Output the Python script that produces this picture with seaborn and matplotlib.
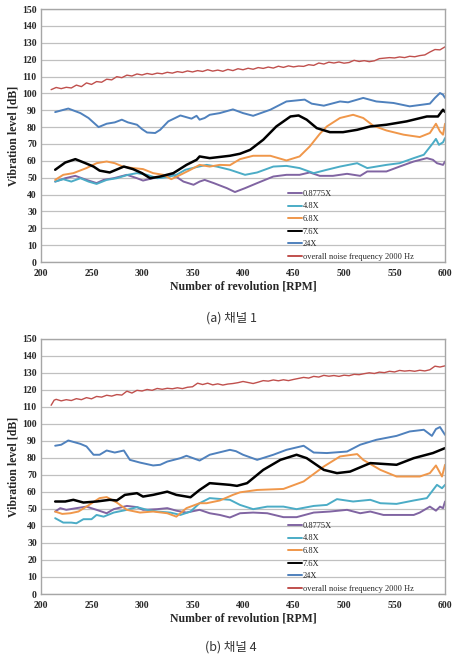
import pandas as pd
import matplotlib
matplotlib.use("Agg")
import matplotlib.pyplot as plt
import seaborn as sns

# series names / colours (Excel-style)
labels = ["0.8775X", "4.8X", "6.8X", "7.6X", "24X", "overall noise frequency 2000 Hz"]
colors = ["#8064A2", "#4BACC6", "#F0974A", "#000000", "#4F81BD", "#C0504D"]
widths = [1.4, 1.4, 1.4, 1.8, 1.4, 1.0]

# ---------------- (a) channel 1 ----------------
a_p_rpm = [214, 224, 234, 245, 255, 262, 272, 285, 295, 301, 311, 321, 331, 341, 351, 357, 362, 371, 384, 392,
           402, 414, 430, 443, 456, 466, 476, 489, 503, 516, 523, 542, 555, 569, 582, 588, 592, 598, 600]
a_p_db = [47.7, 49.7, 51.1, 48.7, 46.8, 48.7, 49.7, 51.7, 49.7, 48.3, 49.7, 50.3, 51.7, 47.7, 45.8, 47.7, 48.7,
          46.8, 43.8, 41.5, 43.8, 46.8, 50.7, 51.7, 51.7, 53.1, 51.1, 51.1, 52.3, 51.1, 53.7, 53.7, 56.6, 59.6,
          61.6, 60.6, 58.6, 57.6, 59.6]

a_c_rpm = [214, 222, 230, 239, 247, 255, 265, 275, 286, 295, 305, 315, 325, 334, 343, 354, 364, 374, 387, 402,
           414, 430, 443, 456, 470, 483, 496, 513, 523, 542, 555, 569, 579, 588, 591, 594, 598, 600]
a_c_db = [47.7, 49.1, 47.7, 49.7, 47.7, 46.3, 48.7, 49.7, 51.7, 52.7, 51.7, 49.7, 50.3, 51.7, 54.7, 56.3, 57.6,
          56.6, 54.7, 51.7, 53.1, 56.6, 57.0, 55.7, 52.7, 54.7, 56.6, 58.6, 55.7, 57.6, 58.6, 61.6, 63.6, 70.5,
          73.0, 69.5, 71.0, 73.5]

a_o_rpm = [214, 222, 232, 245, 255, 265, 273, 281, 291, 301, 311, 321, 329, 338, 348, 357, 367, 377, 387, 397,
           410, 427, 443, 456, 466, 476, 483, 496, 509, 519, 529, 542, 559, 575, 585, 591, 595, 598, 600]
a_o_db = [48.7, 51.7, 52.7, 55.7, 58.6, 59.6, 58.6, 56.6, 55.7, 55.1, 52.7, 51.7, 49.1, 51.7, 54.7, 57.6, 56.6,
          57.6, 57.4, 61.0, 63.0, 63.0, 60.2, 62.6, 68.5, 76.0, 80.4, 85.4, 87.3, 85.4, 80.8, 78.0, 75.5, 74.1,
          76.5, 82.0, 77.4, 75.5, 82.0]

a_k_rpm = [214, 224, 234, 244, 252, 258, 268, 282, 291, 300, 308, 318, 331, 344, 354, 357, 367, 387, 397, 407,
           420, 433, 447, 455, 463, 473, 486, 499, 513, 526, 542, 562, 582, 593, 598, 600]
a_k_db = [54.7, 59.0, 61.0, 58.6, 56.6, 54.2, 53.1, 56.6, 55.1, 52.7, 49.7, 50.7, 52.7, 57.6, 60.6, 62.6, 61.6,
          63.0, 64.2, 66.5, 72.5, 80.4, 86.3, 86.9, 84.4, 79.4, 77.0, 77.0, 78.4, 80.4, 81.4, 83.4, 86.3, 86.3,
          90.3, 89.0]

a_b_rpm = [214, 227, 239, 247, 257, 265, 273, 280, 286, 295, 300, 305, 313, 318, 326, 338, 349, 354, 357, 362,
           367, 377, 390, 400, 410, 427, 443, 461, 468, 480, 496, 504, 519, 532, 549, 565, 585, 590, 595, 598, 600]
a_b_db = [88.9, 91.0, 88.3, 85.4, 80.0, 82.0, 82.8, 84.4, 82.8, 81.4, 78.8, 76.8, 76.5, 78.4, 83.4, 86.9, 85.0,
          86.7, 84.4, 85.4, 87.3, 88.3, 90.5, 88.3, 86.7, 90.3, 95.2, 96.3, 93.9, 92.7, 95.2, 94.7, 97.3, 95.2,
          94.3, 92.3, 93.9, 97.3, 100.2, 99.2, 97.3]

a_r_rpm = list(range(210, 605, 5))
a_r_db = [102.2, 103.5, 102.8, 103.6, 103.2, 104.9, 104.0, 106.2, 105.3, 107.0, 106.6, 108.4, 108.0, 109.9,
          109.3, 110.8, 110.3, 111.5, 110.9, 111.8, 111.2, 112.0, 111.6, 112.5, 112.0, 112.9, 112.4, 113.3,
          112.7, 113.5, 113.0, 114.0, 113.2, 113.8, 113.1, 114.2, 113.5, 114.6, 114.0, 114.9, 114.3, 115.3,
          114.8, 115.6, 115.0, 116.1, 115.4, 116.3, 115.7, 116.2, 116.0, 117.0, 116.6, 118.0, 117.4, 118.5,
          118.0, 118.6, 117.9, 118.3, 119.6, 118.9, 119.4, 118.8, 119.3, 120.6, 120.9, 121.2, 121.0, 121.6,
          121.2, 122.0, 121.7, 122.4, 122.8, 124.5, 126.0, 125.8, 127.6]

# ---------------- (b) channel 4 ----------------
b_p_rpm = [214, 219, 225, 235, 245, 255, 265, 272, 285, 295, 301, 315, 325, 334, 344, 357, 367, 377, 387, 397,
           410, 424, 440, 453, 470, 486, 503, 516, 526, 539, 555, 569, 575, 585, 591, 595, 598, 600]
b_p_db = [48.5, 50.5, 49.5, 50.5, 51.4, 49.5, 47.5, 49.9, 51.8, 51.1, 49.5, 49.9, 50.5, 49.0, 47.9, 49.5, 47.5,
          46.5, 45.0, 47.5, 47.9, 47.5, 45.2, 45.2, 47.9, 48.5, 49.5, 47.5, 48.5, 46.5, 46.5, 46.5, 47.9, 51.4,
          49.0, 51.4, 50.5, 54.4]

b_c_rpm = [214, 222, 230, 235, 242, 250, 255, 262, 272, 285, 295, 305, 315, 328, 338, 348, 357, 367, 387, 397,
           410, 424, 440, 453, 470, 483, 493, 509, 526, 536, 552, 569, 582, 592, 597, 600]
b_c_db = [44.6, 42.0, 42.0, 41.6, 44.0, 44.0, 46.5, 45.5, 47.9, 49.5, 51.1, 49.5, 48.5, 47.9, 46.5, 48.5, 53.4,
          56.4, 55.4, 52.4, 49.9, 51.4, 51.4, 49.9, 51.8, 52.4, 55.8, 54.4, 55.4, 53.4, 53.0, 55.0, 56.4, 64.2,
          62.2, 64.2]

b_o_rpm = [214, 221, 229, 237, 245, 258, 265, 275, 285, 298, 311, 325, 334, 344, 357, 364, 377, 390, 397, 414,
           440, 460, 480, 496, 513, 519, 536, 552, 575, 585, 591, 597, 600]
b_o_db = [48.5, 47.1, 47.5, 48.5, 51.4, 56.4, 57.0, 53.8, 49.5, 47.9, 48.5, 47.5, 45.5, 50.5, 53.4, 53.4, 55.0,
          58.3, 59.8, 61.2, 61.8, 66.2, 75.0, 80.9, 82.3, 78.9, 73.0, 69.1, 69.1, 71.1, 75.6, 69.1, 76.0]

b_k_rpm = [214, 224, 232, 242, 255, 268, 275, 283, 295, 301, 311, 325, 334, 348, 357, 367, 387, 394, 404, 420,
           437, 453, 463, 480, 493, 506, 526, 552, 569, 588, 600]
b_k_db = [54.4, 54.4, 55.4, 53.8, 54.4, 55.4, 55.0, 58.3, 59.3, 57.3, 58.3, 60.2, 58.3, 56.9, 61.2, 65.2, 64.2,
          63.6, 65.2, 73.0, 78.9, 81.9, 79.9, 73.0, 71.1, 72.0, 77.0, 76.0, 79.9, 82.9, 85.8]

b_b_rpm = [214, 220, 227, 239, 245, 252, 258, 265, 273, 282, 288, 298, 311, 318, 325, 338, 344, 357, 367, 387,
           393, 400, 414, 430, 443, 460, 470, 483, 503, 516, 532, 552, 565, 579, 587, 591, 595, 600]
b_b_db = [87.2, 87.8, 90.3, 88.3, 86.8, 81.9, 81.9, 84.4, 83.2, 84.4, 78.9, 77.3, 75.6, 76.0, 77.9, 79.9, 81.3,
          78.5, 81.9, 84.8, 84.0, 81.9, 78.9, 81.9, 84.8, 87.2, 83.2, 82.9, 83.8, 87.8, 90.7, 93.0, 95.6, 96.6,
          93.0, 97.0, 98.2, 93.6]

b_r_rpm = [210, 213] + list(range(215, 605, 5))
b_r_db = [111.0, 114.0, 114.5, 113.6, 114.3, 113.8, 114.9, 114.3, 115.5, 114.8, 116.2, 115.8, 116.9, 116.4,
          117.3, 117.0, 119.3, 118.2, 119.8, 119.4, 120.3, 119.8, 120.9, 120.4, 121.0, 120.7, 121.3, 120.8,
          121.6, 121.9, 124.0, 123.2, 124.0, 123.0, 123.6, 122.9, 123.5, 123.8, 124.3, 125.0, 124.4, 123.8,
          124.6, 125.5, 125.2, 125.9, 125.4, 126.0, 125.5, 126.2, 126.8, 127.4, 127.0, 128.0, 127.6, 128.6,
          128.1, 128.5, 128.0, 128.7, 128.4, 129.2, 129.0, 129.6, 130.1, 129.7, 130.5, 130.2, 131.0, 130.6,
          131.5, 131.1, 131.4, 131.0, 131.6, 131.2, 131.9, 134.0, 133.5, 134.2]

panels = [
    ([(a_p_rpm, a_p_db), (a_c_rpm, a_c_db), (a_o_rpm, a_o_db), (a_k_rpm, a_k_db), (a_b_rpm, a_b_db),
      (a_r_rpm, a_r_db)], "(a) 채널 1"),
    ([(b_p_rpm, b_p_db), (b_c_rpm, b_c_db), (b_o_rpm, b_o_db), (b_k_rpm, b_k_db), (b_b_rpm, b_b_db),
      (b_r_rpm, b_r_db)], "(b) 채널 4"),
]

sns.set_style("whitegrid")
plt.rcParams['font.family'] = ['Liberation Serif', 'DejaVu Sans']

fig = plt.figure(figsize=(4.63, 6.60), dpi=100)
axes_rects = [[0.0886, 0.603, 0.8726, 0.3833], [0.0886, 0.100, 0.8726, 0.3864]]
caption_y = [1 - 318 / 660, 1 - 647 / 660]

for i, (series, caption) in enumerate(panels):
    ax = fig.add_axes(axes_rects[i])
    for (rpm, db), lab, col, lw in zip(series, labels, colors, widths):
        df = pd.DataFrame({'rpm': rpm, 'db': db})
        sns.lineplot(data=df, x='rpm', y='db', ax=ax, color=col, linewidth=lw,
                     label=lab, estimator=None, sort=False)
    ax.set_xlim(200, 600)
    ax.set_ylim(0, 150)
    ax.set_xticks(range(200, 601, 50))
    ax.set_yticks(range(0, 151, 10))
    ax.grid(axis='x', visible=False)
    ax.grid(axis='y', color='#C0C0C0', linewidth=0.9)
    for s in ax.spines.values():
        s.set_color('#A6A6A6')
        s.set_linewidth(1.0)
    ax.tick_params(axis='y', labelsize=7, pad=3, length=0)
    ax.tick_params(axis='x', labelsize=7, pad=5, length=0)
    for t in ax.get_xticklabels() + ax.get_yticklabels():
        t.set_fontweight('bold')
    ax.set_xlabel('Number of revolution [RPM]', fontsize=8.5, fontweight='bold', labelpad=2)
    ax.set_ylabel('Vibration level [dB]', fontsize=8.5, fontweight='bold', labelpad=2)
    leg = ax.legend(loc='lower left', bbox_to_anchor=(0.60, -0.015), frameon=False, fontsize=6,
                    handlelength=1.6, handletextpad=0.1, labelspacing=0.55, borderaxespad=0.2)
    for ln in leg.get_lines():
        ln.set_linewidth(1.4)
    fig.text(0.499, caption_y[i], caption, ha='center', va='center', fontsize=9,
             family=['Noto Sans CJK KR', 'DejaVu Sans'], color='#333333')

fig.savefig('out.png', dpi=100)
